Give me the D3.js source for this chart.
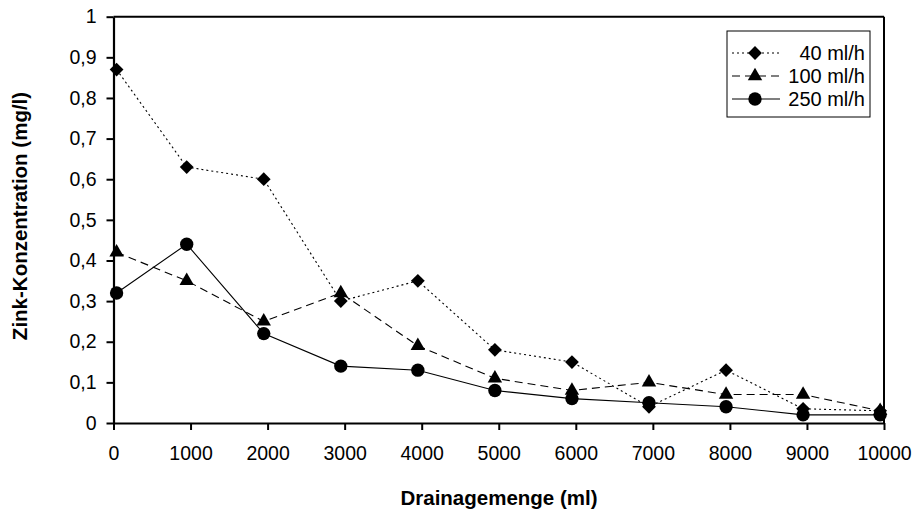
<!DOCTYPE html>
<html><head><meta charset="utf-8">
<script src="https://cdn.jsdelivr.net/npm/d3@7"></script>
<style>body{margin:0;background:#fff}</style>
</head><body><svg id="c" width="915" height="513"></svg>
<script>
const xValues=[40,950,1950,2950,3950,4950,5950,6950,7950,8950,9950];
const series40=[0.87,0.63,0.60,0.30,0.35,0.18,0.15,0.04,0.13,0.035,0.03];
const series100=[0.42,0.35,0.25,0.32,0.19,0.11,0.08,0.10,0.07,0.07,0.03];
const series250=[0.32,0.44,0.22,0.14,0.13,0.08,0.06,0.05,0.04,0.02,0.02];
const seriesNames=["40 ml/h","100 ml/h","250 ml/h"];
const xTicks=[0,1000,2000,3000,4000,5000,6000,7000,8000,9000,10000];
const yTicks=[0,0.1,0.2,0.3,0.4,0.5,0.6,0.7,0.8,0.9,1];
const xTitle="Drainagemenge (ml)";
const yTitle="Zink-Konzentration (mg/l)";

const svg=d3.select("#c");
const font="'Liberation Sans', Arial, sans-serif";
const L=113.5,R=884,T=16.7,B=423;
const x=d3.scaleLinear().domain([0,10000]).range([L,R]);
const y=d3.scaleLinear().domain([0,1]).range([B,T]);

svg.append("line").attr("x1",L).attr("x2",R).attr("y1",T).attr("y2",T).attr("stroke","#000").attr("stroke-width",2);
svg.append("line").attr("x1",R).attr("x2",R).attr("y1",T).attr("y2",B).attr("stroke","#000").attr("stroke-width",2);

const fmt=v=>v===0?"0":v===1?"1":v.toFixed(1).replace(".",",");
const gy=svg.append("g").attr("transform",`translate(${L},0)`)
  .call(d3.axisLeft(y).tickValues(yTicks).tickFormat(fmt).tickSize(7).tickSizeOuter(0).tickPadding(10));
const gx=svg.append("g").attr("transform",`translate(0,${B})`)
  .call(d3.axisBottom(x).tickValues(xTicks).tickFormat(d=>String(d)).tickSize(7).tickSizeOuter(0).tickPadding(16));
[gx,gy].forEach(g=>{
  g.select(".domain").attr("stroke","#000").attr("stroke-width",2.2);
  g.selectAll(".tick line").attr("stroke","#000").attr("stroke-width",2);
  g.selectAll(".tick text").attr("fill","#000").style("font-family",font).style("font-size","19.5px");
});

const data=[series40,series100,series250];
const dashes=["2,3","8,5",null];
const line=d3.line().x((d,i)=>x(xValues[i])).y(d=>y(d));
const sym=[d3.symbolSquare,d3.symbolTriangle,d3.symbolCircle];
const sizes=[95,90,140];
const rot=[45,0,0];

data.forEach((s,k)=>{
  svg.append("path").datum(s).attr("d",line).attr("fill","none").attr("stroke","#000")
    .attr("stroke-width",1.1).attr("stroke-dasharray",dashes[k]);
});
data.forEach((s,k)=>{
  svg.append("g").selectAll("path").data(s).join("path")
    .attr("transform",(d,i)=>`translate(${x(xValues[i])},${y(d)}) rotate(${rot[k]})`)
    .attr("d",d3.symbol().type(sym[k]).size(sizes[k])).attr("fill","#000");
});

const lg=svg.append("g");
lg.append("rect").attr("x",727).attr("y",31).attr("width",143).attr("height",86)
  .attr("fill","#fff").attr("stroke","#000").attr("stroke-width",1);
const rowY=[53,76,99];
seriesNames.forEach((n,k)=>{
  lg.append("line").attr("x1",732).attr("x2",780).attr("y1",rowY[k]).attr("y2",rowY[k])
    .attr("stroke","#000").attr("stroke-width",1.1).attr("stroke-dasharray",dashes[k]);
  lg.append("path").attr("transform",`translate(755,${rowY[k]}) rotate(${rot[k]})`)
    .attr("d",d3.symbol().type(sym[k]).size(sizes[k])).attr("fill","#000");
  lg.append("text").attr("x",865).attr("y",rowY[k]).attr("dy","0.36em").attr("text-anchor","end")
    .style("font-family",font).style("font-size","20px").text(n);
});

svg.append("text").attr("x",499).attr("y",505).attr("text-anchor","middle")
  .style("font-family",font).style("font-weight","bold").style("font-size","20.5px").text(xTitle);
svg.append("text").attr("transform","translate(27,216) rotate(-90)").attr("text-anchor","middle")
  .style("font-family",font).style("font-weight","bold").style("font-size","20.5px").text(yTitle);
</script></body></html>
